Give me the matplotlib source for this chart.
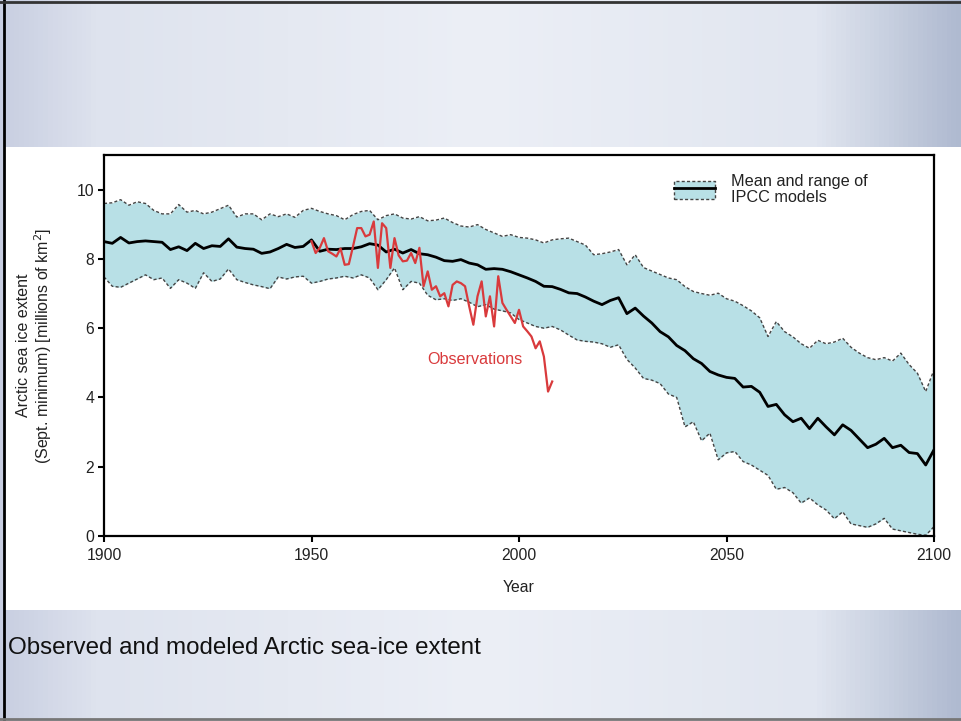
import numpy as np
import matplotlib
matplotlib.use("Agg")
import matplotlib.pyplot as plt
from matplotlib.patches import Patch, Rectangle
from matplotlib.lines import Line2D

plt.rcParams['font.family'] = ['Liberation Sans', 'DejaVu Sans']

# model ensemble, read every 2 years off the picture
model_years = list(range(1900, 2101, 2))
model_mean = [8.50, 8.45, 8.62, 8.46, 8.50, 8.52, 8.50, 8.48, 8.27, 8.35,
              8.24, 8.45, 8.30, 8.38, 8.36, 8.58, 8.34, 8.30, 8.28, 8.16,
              8.20, 8.30, 8.42, 8.33, 8.36, 8.55, 8.22, 8.28, 8.27, 8.30,
              8.30, 8.35, 8.44, 8.40, 8.20, 8.28, 8.17, 8.27, 8.15, 8.12,
              8.05, 7.95, 7.93, 7.98, 7.88, 7.83, 7.70, 7.72, 7.70, 7.63,
              7.54, 7.45, 7.35, 7.21, 7.20, 7.12, 7.02, 7.00, 6.90, 6.78,
              6.68, 6.80, 6.88, 6.42, 6.58, 6.35, 6.15, 5.90, 5.75, 5.50,
              5.35, 5.12, 4.98, 4.75, 4.65, 4.58, 4.55, 4.30, 4.32, 4.15,
              3.74, 3.80, 3.50, 3.30, 3.40, 3.10, 3.40, 3.15, 2.92, 3.21,
              3.05, 2.80, 2.55, 2.65, 2.82, 2.55, 2.62, 2.41, 2.38, 2.05,
              2.49]
model_max = [9.60, 9.62, 9.71, 9.55, 9.65, 9.60, 9.40, 9.30, 9.30, 9.57,
             9.35, 9.40, 9.30, 9.35, 9.45, 9.55, 9.21, 9.30, 9.30, 9.13,
             9.30, 9.22, 9.30, 9.20, 9.40, 9.46, 9.37, 9.30, 9.25, 9.13,
             9.28, 9.37, 9.40, 9.13, 9.25, 9.30, 9.18, 9.15, 9.22, 9.10,
             9.12, 9.18, 9.05, 8.95, 8.92, 8.99, 8.85, 8.75, 8.65, 8.70,
             8.62, 8.60, 8.55, 8.46, 8.55, 8.58, 8.60, 8.50, 8.40, 8.12,
             8.15, 8.20, 8.27, 7.83, 8.12, 7.75, 7.65, 7.55, 7.45, 7.40,
             7.20, 7.06, 7.00, 6.95, 7.01, 6.85, 6.78, 6.65, 6.50, 6.30,
             5.76, 6.19, 5.90, 5.75, 5.55, 5.42, 5.65, 5.55, 5.60, 5.71,
             5.45, 5.28, 5.15, 5.09, 5.15, 5.05, 5.28, 4.95, 4.70, 4.17,
             4.80]
model_min = [7.48, 7.21, 7.18, 7.30, 7.42, 7.54, 7.40, 7.45, 7.15, 7.40,
             7.30, 7.15, 7.60, 7.35, 7.42, 7.71, 7.40, 7.32, 7.25, 7.20,
             7.14, 7.48, 7.42, 7.48, 7.50, 7.30, 7.35, 7.42, 7.45, 7.50,
             7.45, 7.54, 7.45, 7.11, 7.40, 7.74, 7.11, 7.35, 7.30, 6.95,
             6.82, 6.85, 6.80, 6.85, 6.75, 6.62, 6.68, 6.55, 6.50, 6.44,
             6.25, 6.15, 6.05, 6.00, 6.05, 5.95, 5.80, 5.66, 5.62, 5.60,
             5.55, 5.45, 5.52, 5.10, 4.85, 4.55, 4.50, 4.40, 4.10, 4.00,
             3.15, 3.30, 2.75, 2.97, 2.20, 2.40, 2.44, 2.15, 2.05, 1.90,
             1.75, 1.35, 1.40, 1.25, 0.95, 1.10, 0.90, 0.75, 0.50, 0.70,
             0.35, 0.30, 0.25, 0.35, 0.51, 0.20, 0.15, 0.10, 0.05, 0.02,
             0.27]

# observed september minimum
obs_years = list(range(1950, 2009))
obs_extent = [8.51, 8.17, 8.32, 8.60, 8.22, 8.15, 8.07, 8.30, 7.83, 7.85,
              8.36, 8.89, 8.89, 8.65, 8.70, 9.08, 7.74, 9.03, 8.89, 7.74,
              8.60, 8.10, 7.93, 7.95, 8.17, 7.88, 8.32, 7.21, 7.64, 7.11,
              7.21, 6.92, 7.01, 6.63, 7.25, 7.35, 7.30, 7.21, 6.63, 6.10,
              6.92, 7.35, 6.34, 6.92, 6.05, 7.50, 6.73, 6.53, 6.34, 6.15,
              6.53, 6.05, 5.91, 5.76, 5.42, 5.62, 5.18, 4.17, 4.46]

x_ticks = [1900, 1950, 2000, 2050, 2100]
y_ticks = [0, 2, 4, 6, 8, 10]

fill_col = '#b8e0e6'
red = '#d93a3c'

fig = plt.figure(figsize=(9.61, 7.21), dpi=100)

# slide background (gradient + white panel)
bg = fig.add_axes([0, 0, 1, 1])
bg.set_xlim(0, 961)
bg.set_ylim(721, 0)
bg.axis('off')
gx = np.linspace(0, 1, 200)
row = np.stack([np.interp(gx, [0, 0.1, 0.5, 0.85, 1], c)
                for c in ([200, 222, 236, 225, 175],
                          [206, 227, 239, 230, 186],
                          [225, 238, 246, 240, 208])], axis=-1) / 255
bg.imshow(np.tile(row[None, :, :], (2, 1, 1)), extent=[0, 961, 721, 0],
          aspect='auto', zorder=0)
bg.add_patch(Rectangle((5, 147), 956, 463, facecolor='white', edgecolor='none', zorder=1))
bg.plot([4, 4], [0, 721], color='black', lw=2, zorder=2)
bg.plot([0, 961], [2, 2], color='#333333', lw=2, zorder=2)
bg.plot([0, 961], [719, 719], color='#777777', lw=2, zorder=2)
bg.text(8, 648, 'Observed and modeled Arctic sea-ice extent', fontsize=17.4,
        color='#111111', va='center', ha='left', zorder=3)

ax = fig.add_axes([104 / 961, 1 - 536 / 721, 830 / 961, 381 / 721])
ax.set_facecolor('white')

ax.fill_between(model_years, model_min, model_max, color=fill_col, lw=0, zorder=1)
ax.plot(model_years, model_max, color='#444444', lw=1.0, ls=(0, (2.2, 1.6)), zorder=2)
ax.plot(model_years, model_min, color='#444444', lw=1.0, ls=(0, (2.2, 1.6)), zorder=2)
ax.plot(model_years, model_mean, color='black', lw=2.0, zorder=3)
ax.plot(obs_years, obs_extent, color=red, lw=1.6, zorder=4)

ax.text(1977.8, 5.09, 'Observations', color=red, fontsize=11.6, va='center', ha='left')

ax.set_xlim(1900, 2100)
ax.set_ylim(0, 11)
ax.set_xticks(x_ticks)
ax.set_yticks(y_ticks)
ax.tick_params(direction='out', length=4, width=1.5, labelsize=11.3,
               labelcolor='#222222')
ax.tick_params(axis='x', pad=5)
ax.tick_params(axis='y', pad=3)
for s in ax.spines.values():
    s.set_linewidth(1.6)

ax.set_xlabel('Year', fontsize=11.3, color='#222222')
ax.xaxis.label.set_va('center')
ax.xaxis.set_label_coords(0.5, -(588 - 536) / 381)
ax.set_ylabel('Arctic sea ice extent\n(Sept. minimum) [millions of km$^2$]',
              fontsize=11.5, color='#222222', linespacing=1.12)
ax.yaxis.label.set_va('center')
ax.yaxis.set_label_coords(-(104 - 35) / 830, 0.5)

band = Patch(facecolor=fill_col, edgecolor='#444444', linestyle=(0, (2.2, 1.6)), lw=1.0)
mline = Line2D([], [], color='black', lw=2.0)
leg = ax.legend([(band, mline)], ['Mean and range of\nIPCC models'],
                loc='upper left', bbox_to_anchor=(674 / 961, 1 - 174 / 721),
                bbox_transform=fig.transFigure, frameon=False, fontsize=11.7,
                handlelength=2.5, handleheight=1.4, handletextpad=1.0,
                borderpad=0, borderaxespad=0)
for t in leg.get_texts():
    t.set_linespacing(1.05)
    t.set_color('#222222')

fig.savefig('out.png', dpi=100)
